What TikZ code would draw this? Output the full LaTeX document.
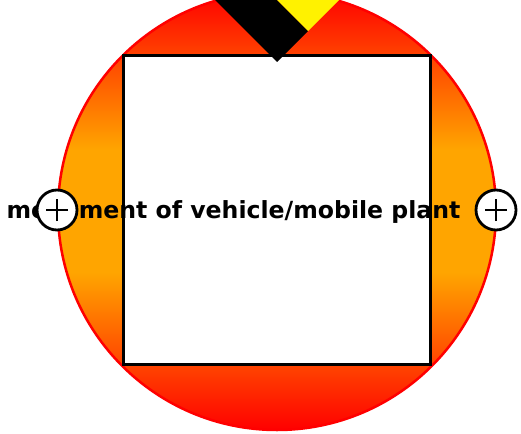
\documentclass[tikz,border=0pt]{standalone}
\usepackage{fontspec}
\setmainfont{DejaVu Sans}
\definecolor{bgorange}{RGB}{255,165,0}
\pgfdeclareverticalshading{discshade}{100bp}{color(0bp)=(red); color(25bp)=(red); color(43bp)=(bgorange); color(57bp)=(bgorange); color(75bp)=(red); color(100bp)=(red)}
\begin{document}
\begin{tikzpicture}[x=1pt,y=-1pt,
  plusbox/.style={circle,draw=black,fill=white,line width=2.8pt,minimum size=40pt,inner sep=0pt},
  plusline/.style={line width=2.4pt,black}]
\useasboundingbox (0,0) rectangle (521,433);
\clip (0,0) rectangle (521,433);
% big shaded circle
\shade[shading=discshade] (277,211) circle (219);
\draw[red,line width=2.5pt] (277,211) circle (219);
% white square
\node[draw=black,fill=white,line width=3pt,minimum width=307pt,minimum height=308pt,inner sep=0pt] (sq) at (276.5,210) {};
% hazard diamond
\fill[black] (277,62) -- (214,-1) -- (276,-1) -- (308,31) -- cycle;
\fill[yellow] (308,31) -- (276,-1) -- (340,-1) -- cycle;
% label
\node[font=\bfseries\fontsize{23.6}{28}\selectfont,inner sep=0pt,anchor=base] (lbl) at (233.5,218) {movement of vehicle/mobile plant};
% plus circles
\node[plusbox] (pl) at (57,210) {};
\node[plusbox] (pr) at (496,210) {};
\draw[plusline] ([xshift=-11pt]pl.center) -- ([xshift=11pt]pl.center);
\draw[plusline] ([yshift=-11pt]pl.center) -- ([yshift=11pt]pl.center);
\draw[plusline] ([xshift=-11pt]pr.center) -- ([xshift=11pt]pr.center);
\draw[plusline] ([yshift=-11pt]pr.center) -- ([yshift=11pt]pr.center);
\end{tikzpicture}
\end{document}
